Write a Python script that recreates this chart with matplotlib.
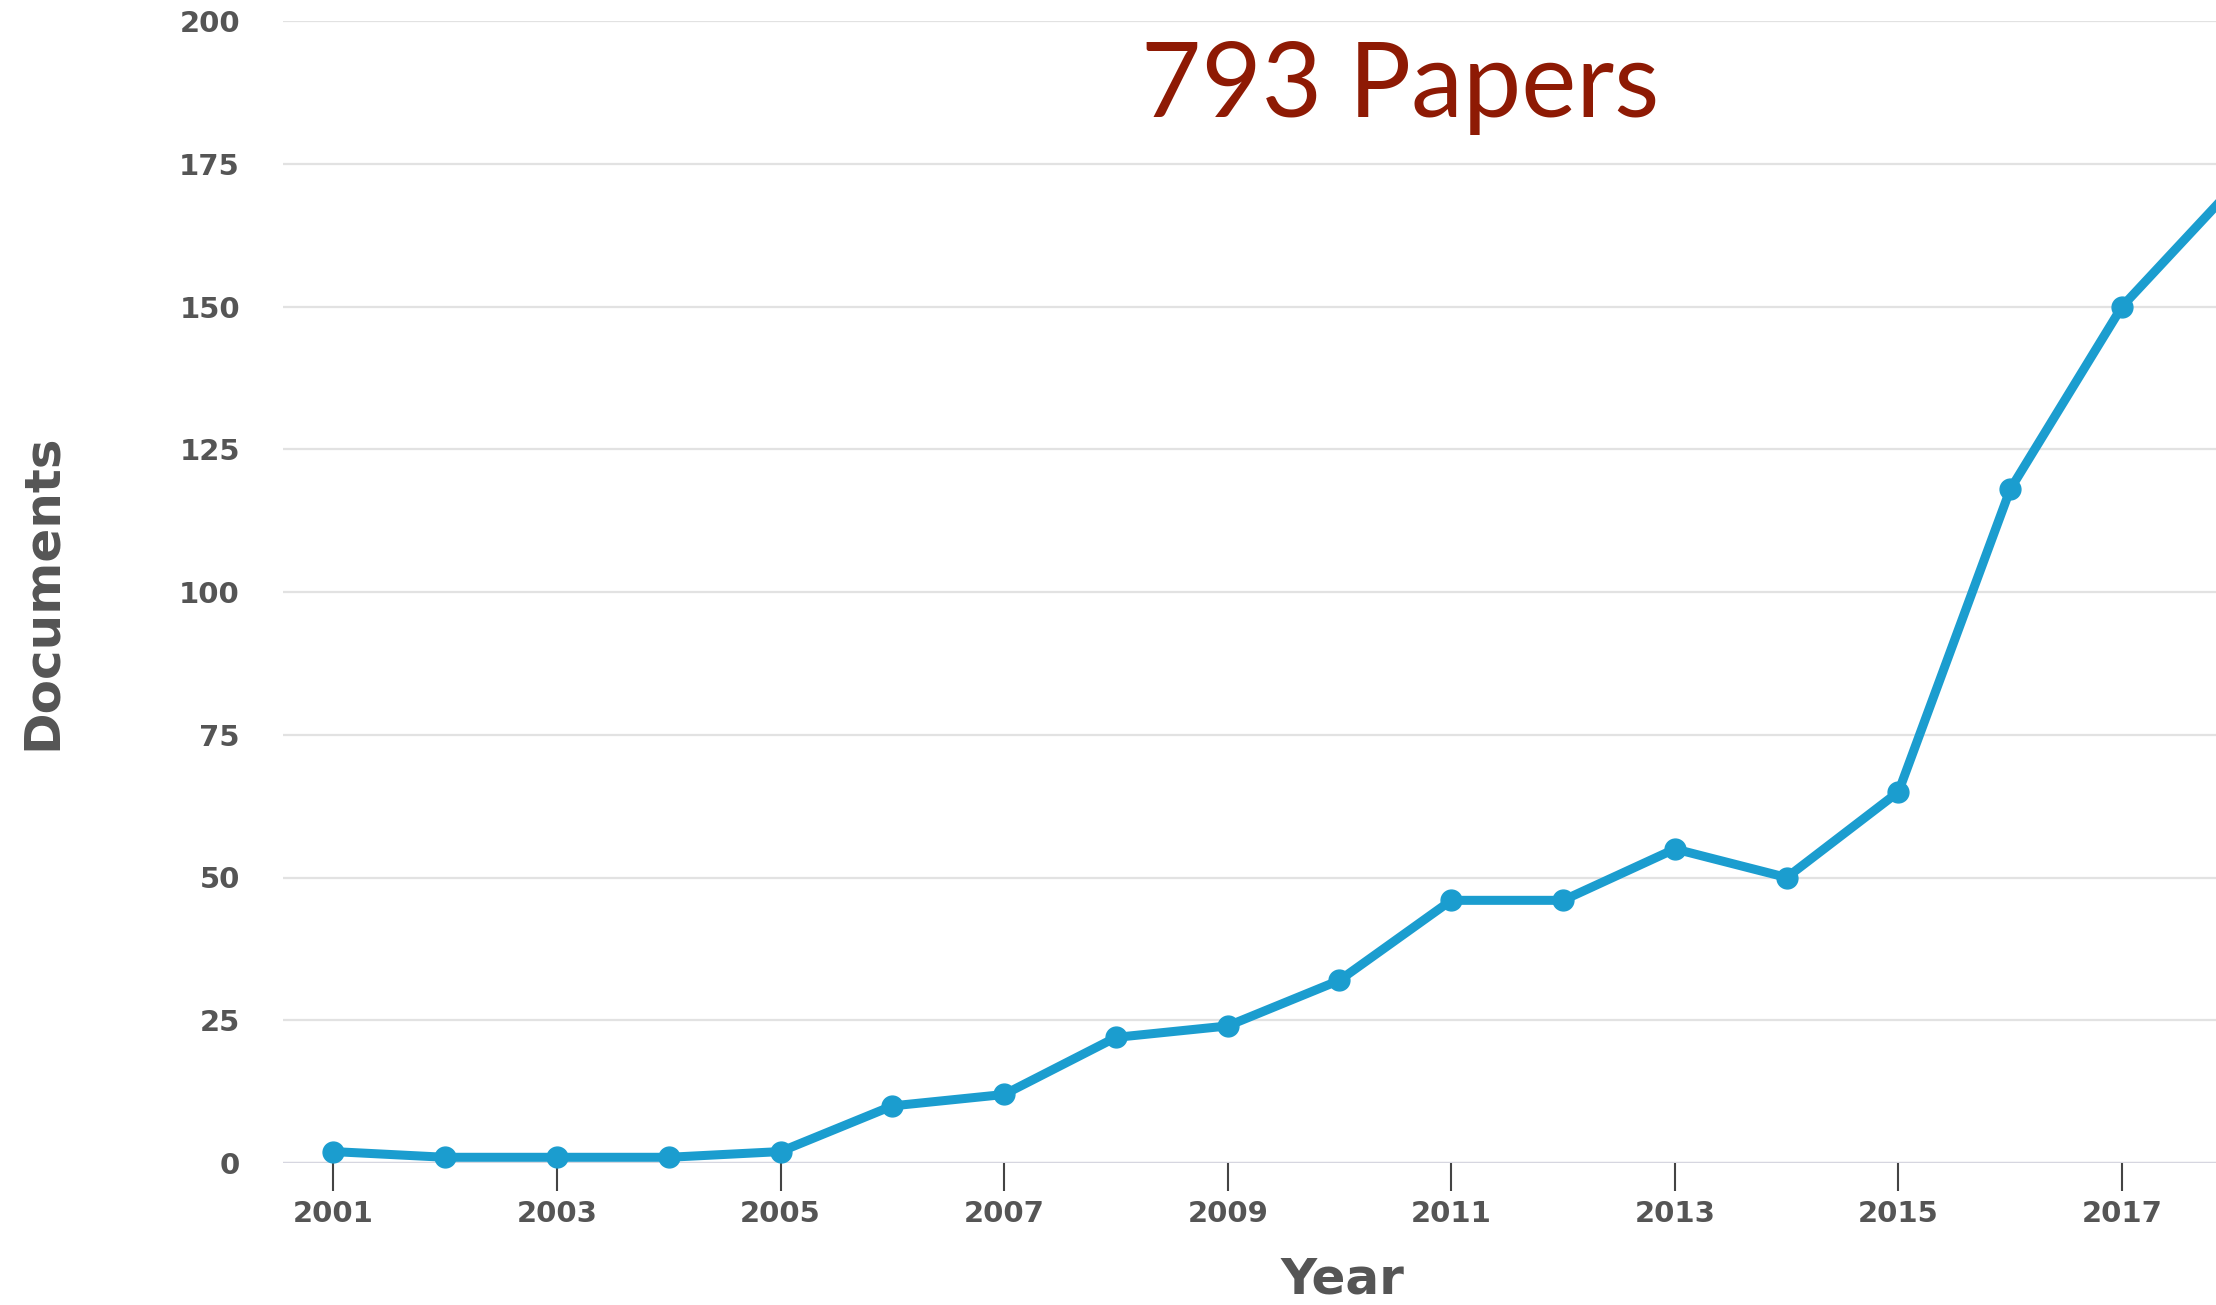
import matplotlib
matplotlib.use("Agg")
import matplotlib.pyplot as plt

# ---- data ----
years = [2001, 2002, 2003, 2004, 2005, 2006, 2007, 2008, 2009,
         2010, 2011, 2012, 2013, 2014, 2015, 2016, 2017, 2018]
documents = [2, 1, 1, 1, 2, 10, 12, 22, 24,
             32, 46, 46, 55, 50, 65, 118, 150, 171]
xticks = [2001, 2003, 2005, 2007, 2009, 2011, 2013, 2015, 2017]
yticks = [0, 25, 50, 75, 100, 125, 150, 175, 200]
title = "793 Papers"

grey = "#555555"
blue = "#1b9dcf"

fig = plt.figure(figsize=(22.16, 13.05), dpi=100)
ax = fig.add_axes([283 / 2216, 1 - 1163 / 1305, 1 - 283 / 2216, (1163 - 21) / 1305])

ax.plot(years, documents, color=blue, lw=6.5, marker="o", ms=15,
        solid_joinstyle="round", clip_on=False, zorder=3)

ax.set_xlim(2000.55, 2017.84)
ax.set_ylim(0, 200)

# grid
for v in yticks[1:]:
    ax.axhline(v, color="#e2e2e2", lw=1.6, zorder=1)
ax.axhline(0, color="#d6d6e0", lw=2.5, zorder=1)

for s in ax.spines.values():
    s.set_visible(False)

ax.set_xticks(xticks)
ax.set_yticks(yticks)
ax.tick_params(axis="y", length=0, pad=31, labelsize=21, labelcolor=grey)
ax.tick_params(axis="x", length=20, width=1.5, color="#444444", pad=7,
               labelsize=21, labelcolor=grey)
for lab in ax.get_xticklabels() + ax.get_yticklabels():
    lab.set_fontweight("bold")

ax.set_xlabel("Year", fontsize=36, fontweight="bold", color=grey, va="center")
ax.xaxis.set_label_coords(0.548, -0.1016)
ax.set_ylabel("Documents", fontsize=36, fontweight="bold", color=grey, va="center")
ax.yaxis.set_label_coords(-0.1247, 0.5)

fig.text(1400 / 2216, 1 - 117 / 1305, title, fontsize=75, fontfamily="Lato",
         fontweight="normal", color="#8e1a04", ha="center", va="baseline")

fig.savefig("out.png", dpi=100, facecolor="white")
